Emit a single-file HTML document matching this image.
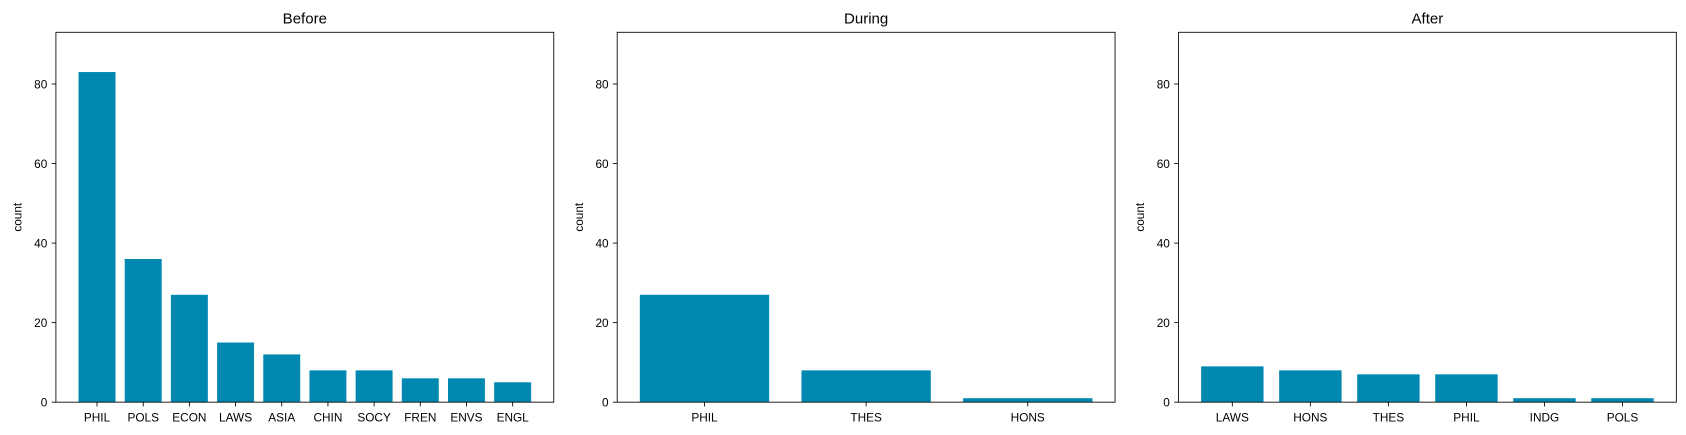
<!DOCTYPE html>
<html><head><meta charset="utf-8"><style>
body{margin:0;background:#fff;}
svg{display:block;font-family:"Liberation Sans","DejaVu Sans",sans-serif;}
</style></head><body>
<svg id="chart" width="1686" height="435" viewBox="0 0 1568 404.5"></svg>
<script>
const beforeCats=["PHIL","POLS","ECON","LAWS","ASIA","CHIN","SOCY","FREN","ENVS","ENGL"];
const beforeVals=[83,36,27,15,12,8,8,6,6,5];
const duringCats=["PHIL","THES","HONS"];
const duringVals=[27,8,1];
const afterCats=["LAWS","HONS","THES","PHIL","INDG","POLS"];
const afterVals=[9,8,7,7,1,1];
const yTicks=[0,20,40,60,80];
const titles=["Before","During","After"];
const yMax=93;

{
const NS="http://www.w3.org/2000/svg";
const svg=document.getElementById('chart');
function mk(tag,attrs,parent){const e=document.createElementNS(NS,tag);for(const k in attrs)e.setAttribute(k,attrs[k]);(parent||svg).appendChild(e);return e;}
const panels=[[beforeCats,beforeVals,52],[duringCats,duringVals,574],[afterCats,afterVals,1096]];
const plotTop=30,plotBottom=374,W=463;
panels.forEach((p,pi)=>{
  const cats=p[0],vals=p[1],left=p[2];
  const g=mk('g',{});
  
  
  const n=cats.length;
  const lo=-0.4,hi=n-1+0.4,m=(hi-lo)*0.05;
  const x0=lo-m,x1=hi+m;
  const xs=v=>left+(v-x0)/(x1-x0)*W;
  const ys=v=>plotBottom-v/yMax*(plotBottom-plotTop);
  vals.forEach((v,i)=>{
    const r=mk('rect',{x:xs(i-0.4),y:ys(v),width:xs(i+0.4)-xs(i-0.4),height:plotBottom-ys(v),fill:'#0088b0'},g);
    
    
    mk('line',{x1:xs(i),x2:xs(i),y1:plotBottom,y2:plotBottom+4,stroke:'#000','stroke-width':0.8},g);
    const t=mk('text',{x:xs(i),y:plotBottom+18,'text-anchor':'middle','font-size':11},g);
    t.textContent=cats[i];
    
    
  });
  yTicks.forEach(v=>{
    mk('line',{x1:left-4,x2:left,y1:ys(v),y2:ys(v),stroke:'#000','stroke-width':0.8},g);
    const t=mk('text',{x:left-8,y:ys(v)+4,'text-anchor':'end','font-size':11},g);
    t.textContent=v;
    
    
  });
  const fr=mk('rect',{x:left,y:plotTop,width:W,height:plotBottom-plotTop,fill:'none',stroke:'#000','stroke-width':0.8},g);
  
  
  const tt=mk('text',{x:left+W/2,y:plotTop-8,'text-anchor':'middle','font-size':14},g);
  tt.textContent=titles[pi];
  
  
  const yl=mk('text',{x:0,y:0,'text-anchor':'middle','font-size':11,transform:`translate(${left-32},${(plotTop+plotBottom)/2}) rotate(-90)`},g);
  yl.textContent='count';
  
  
});
}
</script>
</body></html>
